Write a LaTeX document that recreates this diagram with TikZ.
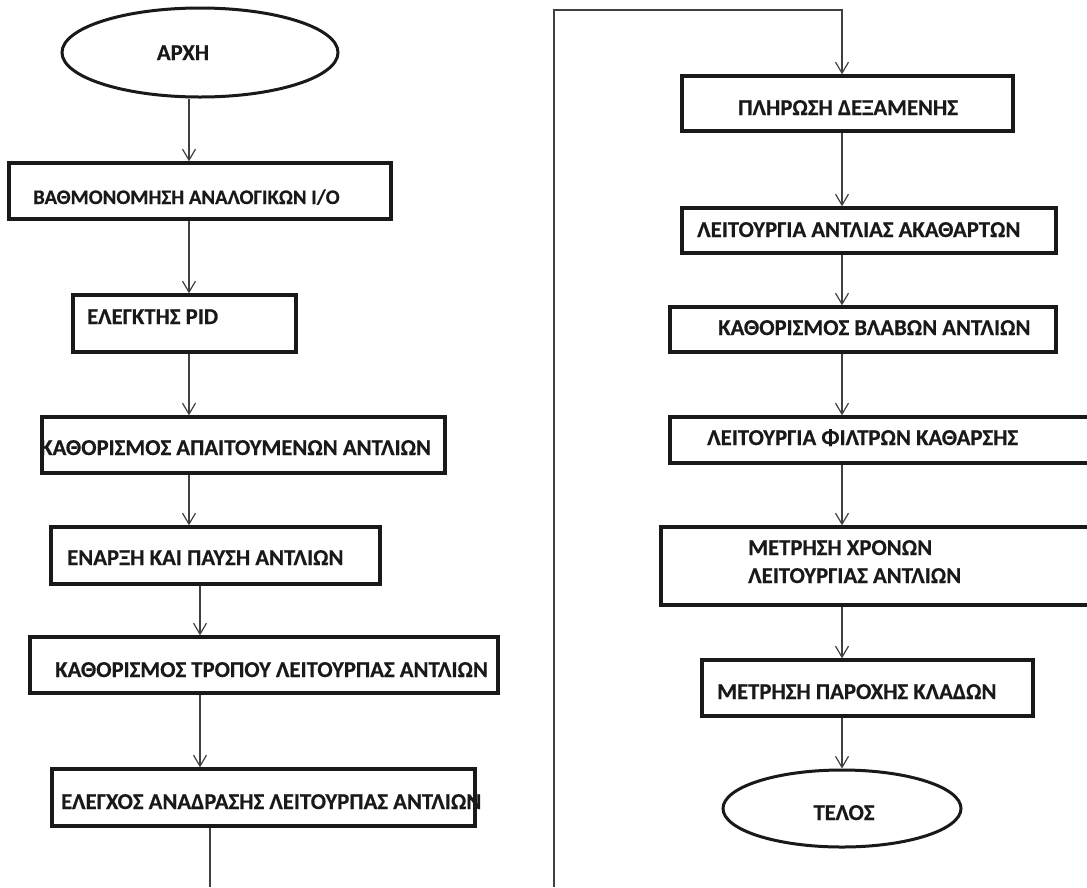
\documentclass[tikz,border=0pt]{standalone}
\usepackage{fontspec}
\setmainfont{Carlito}[BoldFeatures={FakeBold=0.4}]
\usetikzlibrary{arrows.meta,shapes.geometric}

\tikzset{
  stepbox/.style={draw=black!90, line width=3.4pt, rectangle, inner sep=0pt},
  termbox/.style={draw=black!90, line width=3pt, ellipse, inner sep=0pt},
  txt/.style={inner sep=0pt, anchor=base west, text=black!90,
    font=\fontsize{22.7}{28}\selectfont\bfseries},
  smalltxt/.style={txt, font=\fontsize{20.7}{25}\selectfont\bfseries},
  ctxt/.style={txt, anchor=base},
  flow/.style={draw=black!75, line width=1.3pt,
    -{Straight Barb[length=11pt,width=13pt,line width=1.2pt]}},
  plain/.style={draw=black!75, line width=1.3pt}
}

\begin{document}
\begin{tikzpicture}[x=1pt,y=-1pt]
\useasboundingbox (0,0) rectangle (1087,887);
\fill[white] (0,0) rectangle (1087,887);

% ---- labels (drawn first so the frames sit on top) ----
\node[ctxt] (tstart) at (183,60) {ΑΡΧΗ};
\node[smalltxt] (t1) at (33,204) {ΒΑΘΜΟΝΟΜΗΣΗ ΑΝΑΛΟΓΙΚΩΝ I/O};
\node[txt] (t2) at (87,324) {ΕΛΕΓΚΤΗΣ PID};
\node[txt] (t3) at (40,455) {ΚΑΘΟΡΙΣΜΟΣ ΑΠΑΙΤΟΥΜΕΝΩΝ ΑΝΤΛΙΩΝ};
\node[txt] (t4) at (67,565) {ΕΝΑΡΞΗ ΚΑΙ ΠΑΥΣΗ ΑΝΤΛΙΩΝ};
\node[txt] (t5) at (55,677) {ΚΑΘΟΡΙΣΜΟΣ ΤΡΟΠΟΥ ΛΕΙΤΟΥΡΠΑΣ ΑΝΤΛΙΩΝ};
\node[txt] (t6) at (61,809) {ΕΛΕΓΧΟΣ ΑΝΑΔΡΑΣΗΣ ΛΕΙΤΟΥΡΠΑΣ ΑΝΤΛΙΩΝ};

\node[txt] (t7) at (738,115) {ΠΛΗΡΩΣΗ ΔΕΞΑΜΕΝΗΣ};
\node[txt] (t8) at (697,237) {ΛΕΙΤΟΥΡΓΙΑ ΑΝΤΛΙΑΣ ΑΚΑΘΑΡΤΩΝ};
\node[txt] (t9) at (718,335) {ΚΑΘΟΡΙΣΜΟΣ ΒΛΑΒΩΝ ΑΝΤΛΙΩΝ};
\node[txt] (t10) at (707,445) {ΛΕΙΤΟΥΡΓΙΑ ΦΙΛΤΡΩΝ ΚΑΘΑΡΣΗΣ};
\node[txt] (t11a) at (748,555) {ΜΕΤΡΗΣΗ ΧΡΟΝΩΝ};
\node[txt] (t11b) at (748,583) {ΛΕΙΤΟΥΡΓΙΑΣ ΑΝΤΛΙΩΝ};
\node[txt] (t12) at (717,699) {ΜΕΤΡΗΣΗ ΠΑΡΟΧΗΣ ΚΛΑΔΩΝ};
\node[ctxt] (tend) at (844,820) {ΤΕΛΟΣ};

% ---- left column ----
\node[termbox, minimum width=276pt, minimum height=89pt] (start) at (200,52.5) {};
\node[stepbox, minimum width=382pt, minimum height=56pt] (b1) at (200,191) {};
\node[stepbox, minimum width=223pt, minimum height=57pt] (b2) at (184.5,323.5) {};
\node[stepbox, minimum width=403pt, minimum height=56pt] (b3) at (243.5,445) {};
\node[stepbox, minimum width=329pt, minimum height=57pt] (b4) at (215.5,555.5) {};
\node[stepbox, minimum width=468pt, minimum height=56pt] (b5) at (264,665) {};
\node[stepbox, minimum width=423pt, minimum height=57pt] (b6) at (263.5,797.5) {};

% ---- right column ----
\node[stepbox, minimum width=331pt, minimum height=55pt] (b7) at (847.5,103.5) {};
\node[stepbox, minimum width=374pt, minimum height=45pt] (b8) at (869,230.5) {};
\node[stepbox, minimum width=386pt, minimum height=45pt] (b9) at (863,329.5) {};
\node[stepbox, minimum width=425pt, minimum height=46pt] (b10) at (882.5,440) {};
\node[stepbox, minimum width=434pt, minimum height=78pt] (b11) at (878,566) {};
\node[stepbox, minimum width=331pt, minimum height=56pt] (b12) at (867.5,688) {};
\node[termbox, minimum width=238pt, minimum height=77pt] (finish) at (842,808.5) {};

% ---- connector guides ----
\coordinate (xa) at (189,0);
\coordinate (xb) at (200,0);
\coordinate (xc) at (210,0);
\coordinate (xr) at (842,0);
\coordinate (lend) at (210,887);
\coordinate (rbeg) at (554,887);
\coordinate (rtop) at (554,10);

% ---- connectors ----
\draw[flow] (start.south -| xa) -- (b1.north -| xa);
\draw[flow] (b1.south -| xa) -- (b2.north -| xa);
\draw[flow] (b2.south -| xa) -- (b3.north -| xa);
\draw[flow] (b3.south -| xa) -- (b4.north -| xa);
\draw[flow] (b4.south -| xb) -- (b5.north -| xb);
\draw[flow] (b5.south -| xb) -- (b6.north -| xb);
\draw[plain] (b6.south -| xc) -- (lend);

\draw[flow] (rbeg) -- (rtop) -| (b7.north -| xr);
\draw[flow] (b7.south -| xr) -- (b8.north -| xr);
\draw[flow] (b8.south -| xr) -- (b9.north -| xr);
\draw[flow] (b9.south -| xr) -- (b10.north -| xr);
\draw[flow] (b10.south -| xr) -- (b11.north -| xr);
\draw[flow] (b11.south -| xr) -- (b12.north -| xr);
\draw[flow] (b12.south -| xr) -- (finish.north -| xr);
\end{tikzpicture}
\end{document}
